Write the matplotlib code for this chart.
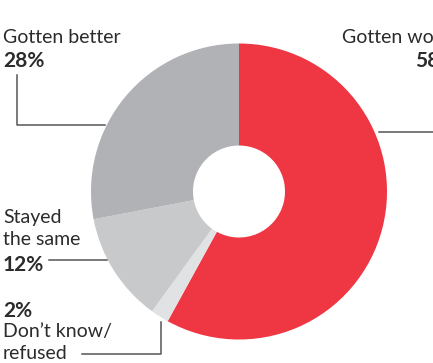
import matplotlib.pyplot as plt

# Survey shares, clockwise from 12 o'clock
labels = ["Gotten worse", "Don't know/\nrefused", "Stayed\nthe same", "Gotten better"]
values = [58, 2, 12, 28]
colors = ["#ee3743", "#e1e2e4", "#c8c9cb", "#b1b2b6"]

W, H = 433, 363
fig = plt.figure(figsize=(W / 100, H / 100), dpi=100)
ax = fig.add_axes([0, 0, 1, 1])

cx, cy, r, hole = 239, H - 191.5, 148, 46
ax.pie(values, colors=colors, startangle=90, counterclock=False,
       center=(cx, cy), radius=r, frame=True,
       wedgeprops=dict(width=r - hole, linewidth=0, antialiased=True))

ax.set_xlim(0, W)
ax.set_ylim(0, H)
ax.set_aspect("equal")
ax.axis("off")

txt = "#2b2b2b"
line = "#555555"
fs = 14
bfs = 15
font = "Lato"

def py(y):
    # pixel row (from top) -> data y
    return H - y

# Gotten better
ax.text(3, py(43), "Gotten better", fontsize=fs, color=txt, family=font, va="baseline")
ax.text(3, py(67), f"{values[3]}%", fontsize=bfs, color=txt, family=font,
        weight="bold", va="baseline")
ax.plot([17, 17, 105], [py(75), py(125), py(125)], color=line, lw=1.1)

# Gotten worse (runs off the right edge, as in the reference)
ax.text(460, py(43), "Gotten worse", fontsize=fs, color=txt, family=font,
        va="baseline", ha="right")
ax.text(456, py(67), f"{values[0]}%", fontsize=bfs, color=txt, family=font,
        weight="bold", va="baseline", ha="right")
ax.plot([379, 440], [py(132), py(132)], color=line, lw=1.1)

# Stayed the same
ax.text(3, py(223), "Stayed", fontsize=fs, color=txt, family=font, va="baseline")
ax.text(3, py(245), "the same", fontsize=fs, color=txt, family=font, va="baseline")
ax.text(3, py(271), f"{values[2]}%", fontsize=bfs, color=txt, family=font,
        weight="bold", va="baseline")
ax.plot([49, 107], [py(260), py(260)], color=line, lw=1.1)

# Don't know / refused
ax.text(3, py(317), f"{values[1]}%", fontsize=bfs, color=txt, family=font,
        weight="bold", va="baseline")
ax.text(3, py(337), "Don\u2019t know/", fontsize=fs, color=txt, family=font, va="baseline")
ax.text(3, py(359), "refused", fontsize=fs, color=txt, family=font, va="baseline")
ax.plot([82, 161, 161], [py(354), py(354), py(322)], color=line, lw=1.1)

fig.savefig("out.png", dpi=100)
